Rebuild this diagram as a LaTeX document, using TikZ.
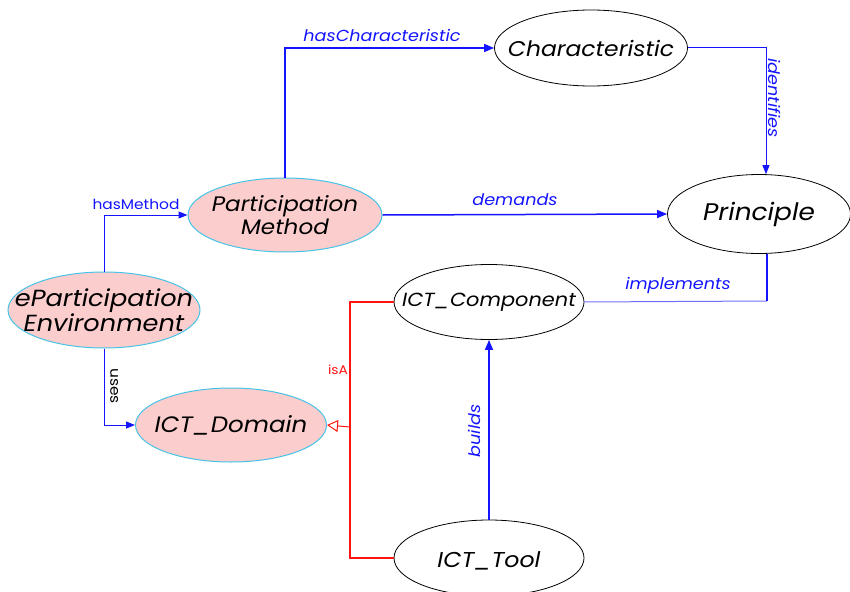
\documentclass[tikz,border=0pt]{standalone}
\usepackage{fontspec}
\setmainfont{Poppins}[FakeStretch=1.1]
\usetikzlibrary{shapes.geometric,arrows.meta}
\definecolor{pinkfill}{RGB}{251,205,205}
\definecolor{cyanline}{RGB}{70,195,230}
\definecolor{linkblue}{RGB}{20,20,255}
\definecolor{lightblue}{RGB}{110,110,255}
\definecolor{isared}{RGB}{255,20,20}
\begin{document}
\begin{tikzpicture}[x=1pt,y=-1pt,
  ell/.style={ellipse,draw=black,line width=0.8pt,fill=white,inner sep=0pt},
  pinkell/.style={ellipse,draw=cyanline,line width=1pt,fill=pinkfill,inner sep=0pt},
  txt/.style={font=\itshape,align=center,inner sep=0pt},
  arr/.style={draw=linkblue,line width=1.5pt,-{Triangle[length=10pt,width=8pt]}},
  thinarr/.style={draw=linkblue,line width=1pt,-{Triangle[length=9pt,width=7pt]}},
  lbl/.style={font=\fontsize{16}{18}\selectfont\itshape,text=linkblue,inner sep=0pt},
  ulbl/.style={font=\fontsize{14}{16}\selectfont,inner sep=0pt}
]
\useasboundingbox (0,0) rectangle (850,591);
% ellipses
\node[ell,minimum width=193pt,minimum height=76pt] (ch) at (591,48) {};
\node[txt,font=\fontsize{21.3}{24}\selectfont\itshape] (cht) at (ch) {Characteristic};
\node[pinkell,minimum width=194pt,minimum height=74pt] (pm) at (285,215) {};
\node[txt,font=\fontsize{21}{23}\selectfont\itshape] (pmt) at (pm) {Participation\\Method};
\node[pinkell,minimum width=192pt,minimum height=76pt] (env) at (104,310) {};
\node[txt,font=\fontsize{23.3}{25}\selectfont\itshape] (envt) at (env) {eParticipation\\Environment};
\node[pinkell,minimum width=191pt,minimum height=74pt] (dom) at (231,425) {};
\node[txt,font=\fontsize{22.3}{24}\selectfont\itshape] (domt) at (dom) {ICT\_Domain};
\node[ell,minimum width=183pt,minimum height=79pt] (pr) at (759,214) {};
\node[txt,font=\fontsize{24}{26}\selectfont\itshape] (prt) at (pr) {Principle};
\node[ell,minimum width=190pt,minimum height=75pt] (comp) at (489,302) {};
\node[txt,font=\fontsize{19}{22}\selectfont\itshape] (compt) at (comp) {ICT\_Component};
\node[ell,minimum width=190pt,minimum height=76pt] (tool) at (489,558) {};
\node[txt,font=\fontsize{21.5}{24}\selectfont\itshape] (toolt) at (tool.center) [yshift=-3pt] {ICT\_Tool};
% connectors
\coordinate (idc) at (766,48);
\draw[arr] (pm.north) |- (ch.west);
\node[lbl,anchor=south] (l1) at (382,42) {hasCharacteristic};
\draw[thinarr] (ch.east) -- (idc) -- (idc |- pr.north);
\node[lbl,rotate=-90,anchor=south] (l2) at (768,98) {identifies};
\draw[arr] (pm.east) -- (pr.west);
\node[lbl,anchor=south] (l3) at (515,206) {demands};
\draw[thinarr] (env.north) |- (pm.west);
\node[ulbl,text=linkblue,anchor=south] (l4) at (136,210) {hasMethod};
\draw[thinarr] (env.south) |- (dom.west);
\node[ulbl,text=black,rotate=-90,anchor=south] (l5) at (110,386) {uses};
\coordinate (imc) at (767,301);
\draw[draw=lightblue,line width=1pt] (comp.east) -- (imc);
\draw[draw=linkblue,line width=1.5pt] (imc) -- (imc |- pr.south);
\node[lbl,anchor=south] (l6) at (678,294) {implements};
\coordinate (isa) at (350,427);
\draw[draw=isared,line width=1.5pt] (comp.west) -| (isa) |- (tool.west);
\draw[draw=isared,line width=1pt,-{Triangle[open,length=11pt,width=12pt]}] (isa) -- (dom.east);
\node[ulbl,font=\fontsize{12.5}{14}\selectfont,text=isared] (l7) at (338,370) {isA};
\draw[arr] (tool.north) -- (comp.south);
\node[lbl,rotate=90,anchor=south] (l8) at (481,431) {builds};
\end{tikzpicture}
\end{document}
